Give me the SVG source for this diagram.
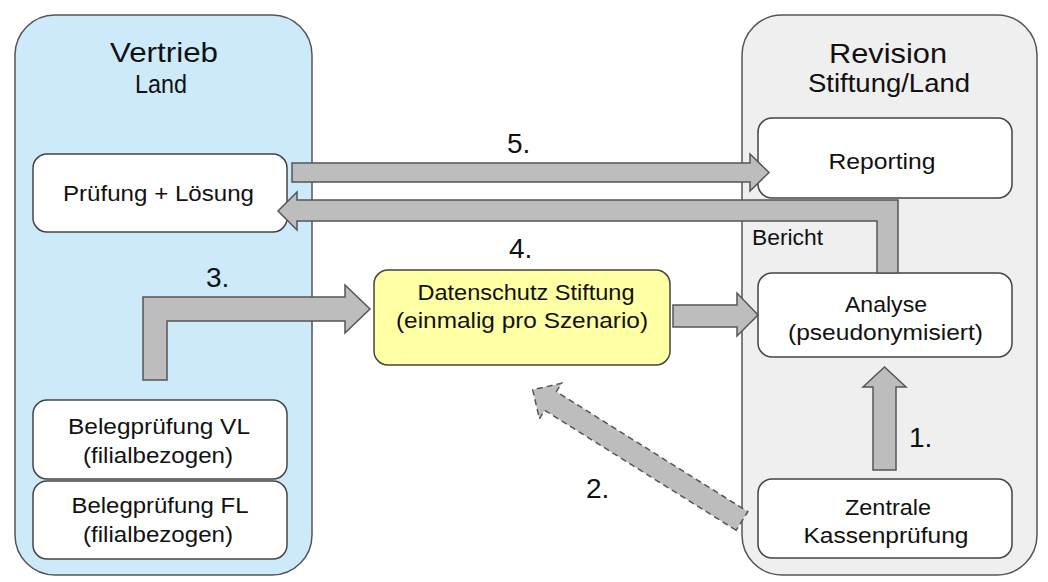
<svg xmlns="http://www.w3.org/2000/svg" width="1048" height="582" viewBox="0 0 1048 582">
  <style>
    text { font-family: "Liberation Sans", Arial, sans-serif; fill: #111; }
    .c { text-anchor: middle; }
    .t { font-size: 22px; }
    .h { font-size: 28px; }
    .n { font-size: 28px; }
    .box { fill: #ffffff; stroke: #444; stroke-width: 1.5; }
    .arrow { fill: #bdbdbd; stroke: #555; stroke-width: 1.5; stroke-linejoin: miter; }
    .dashed { stroke-dasharray: 6 4; }
  </style>
  <rect width="1048" height="582" fill="#ffffff"/>

  <g id="vertrieb">
    <rect x="15" y="15" width="297" height="560" rx="40" ry="40" fill="#cdeafb" stroke="#555" stroke-width="1.5"/>
    <text class="c h" x="164" y="62" textLength="108" lengthAdjust="spacingAndGlyphs">Vertrieb</text>
    <text class="c" x="161" y="93" font-size="25" textLength="52" lengthAdjust="spacingAndGlyphs">Land</text>
  </g>

  <g id="revision">
    <rect x="742" y="15" width="295" height="560" rx="40" ry="40" fill="#efefef" stroke="#555" stroke-width="1.5"/>
    <text class="c h" x="888" y="63" textLength="118" lengthAdjust="spacingAndGlyphs">Revision</text>
    <text class="c" x="889" y="92" font-size="25" textLength="162" lengthAdjust="spacingAndGlyphs">Stiftung/Land</text>
  </g>

  <g id="pruefung">
    <rect class="box" x="33" y="154" width="254" height="78" rx="14" ry="14"/>
    <text class="c t" x="158.5" y="201" textLength="191" lengthAdjust="spacingAndGlyphs">Prüfung + Lösung</text>
  </g>

  <g id="belegpruefung-vl">
    <rect class="box" x="33" y="400" width="254" height="79" rx="14" ry="14"/>
    <text class="c t" x="159" y="434" textLength="182" lengthAdjust="spacingAndGlyphs">Belegprüfung VL</text>
    <text class="c t" x="158" y="463" textLength="150" lengthAdjust="spacingAndGlyphs">(filialbezogen)</text>
  </g>

  <g id="belegpruefung-fl">
    <rect class="box" x="33" y="481" width="254" height="78" rx="14" ry="14"/>
    <text class="c t" x="160" y="513" textLength="177" lengthAdjust="spacingAndGlyphs">Belegprüfung FL</text>
    <text class="c t" x="158" y="542" textLength="150" lengthAdjust="spacingAndGlyphs">(filialbezogen)</text>
  </g>

  <g id="datenschutz">
    <rect x="374" y="270" width="296" height="95" rx="14" ry="14" fill="#ffffa3" stroke="#444" stroke-width="1.5"/>
    <text class="c t" x="526" y="300" textLength="217" lengthAdjust="spacingAndGlyphs">Datenschutz Stiftung</text>
    <text class="c t" x="522" y="328" textLength="252" lengthAdjust="spacingAndGlyphs">(einmalig pro Szenario)</text>
  </g>

  <g id="reporting">
    <rect class="box" x="758" y="118" width="254" height="80" rx="14" ry="14"/>
    <text class="c t" x="882" y="169" textLength="107" lengthAdjust="spacingAndGlyphs">Reporting</text>
  </g>

  <g id="analyse">
    <rect class="box" x="758" y="273" width="254" height="84" rx="14" ry="14"/>
    <text class="c t" x="886" y="312" textLength="82" lengthAdjust="spacingAndGlyphs">Analyse</text>
    <text class="c t" x="885.5" y="340" textLength="195" lengthAdjust="spacingAndGlyphs">(pseudonymisiert)</text>
  </g>

  <g id="zentrale">
    <rect class="box" x="758" y="479" width="254" height="79" rx="14" ry="14"/>
    <text class="c t" x="888" y="515" textLength="86" lengthAdjust="spacingAndGlyphs">Zentrale</text>
    <text class="c t" x="886" y="543" textLength="165" lengthAdjust="spacingAndGlyphs">Kassenprüfung</text>
  </g>

  <g id="connectors">
    <polygon class="arrow" points="292,163 750,163 750,154 769,172.5 750,191 750,182 292,182"/>
    <polygon class="arrow" points="898,273 898,200 297,200 297,192 278,211 297,230 297,221 877,221 877,273"/>
    <polygon class="arrow" points="143,380 143,297 345,297 345,285 370,309 345,333 345,321 167,321 167,380"/>
    <polygon class="arrow" points="673,305 737,305 737,293 758,315 737,336 737,327 673,327"/>
    <polygon class="arrow" points="873,470 873,387 863,387 884.5,367 906,387 896,387 896,470"/>
    <polygon class="arrow dashed" transform="translate(742,521) rotate(212.08)" points="0,-11 226,-11 226,-21 247,0 226,21 226,11 0,11"/>
    <text class="t" x="752" y="245" textLength="71" lengthAdjust="spacingAndGlyphs">Bericht</text>
    <text class="n" x="507" y="153">5.</text>
    <text class="n" x="509" y="258">4.</text>
    <text class="n" x="206" y="287">3.</text>
    <text class="n" x="909" y="447">1.</text>
    <text class="n" x="586" y="498">2.</text>
  </g>
</svg>
